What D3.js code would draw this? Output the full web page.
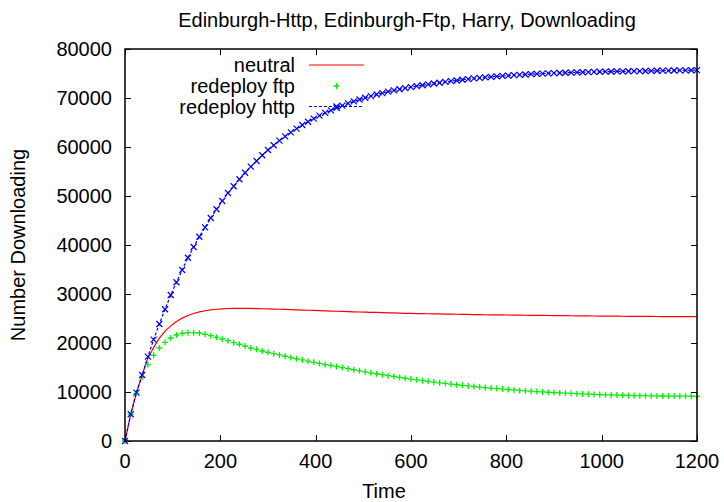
<!DOCTYPE html>
<html>
<head>
<meta charset="utf-8">
<script src="https://cdn.jsdelivr.net/npm/d3@7"></script>
<style>
  html, body { margin: 0; padding: 0; background: #fff; }
  svg { display: block; }
  text { font-family: "Liberation Sans", Arial, Helvetica, sans-serif; fill: #000; }
</style>
</head>
<body>
<svg id="chart" width="724" height="502"></svg>
<script>
// Simulation samples, one every 12 time units
const time = [
  0, 12, 24, 36, 48, 60, 72, 84, 96, 108,
  120, 132, 144, 156, 168, 180, 192, 204, 216, 228,
  240, 252, 264, 276, 288, 300, 312, 324, 336, 348,
  360, 372, 384, 396, 408, 420, 432, 444, 456, 468,
  480, 492, 504, 516, 528, 540, 552, 564, 576, 588,
  600, 612, 624, 636, 648, 660, 672, 684, 696, 708,
  720, 732, 744, 756, 768, 780, 792, 804, 816, 828,
  840, 852, 864, 876, 888, 900, 912, 924, 936, 948,
  960, 972, 984, 996, 1008, 1020, 1032, 1044, 1056, 1068,
  1080, 1092, 1104, 1116, 1128, 1140, 1152, 1164, 1176, 1188,
  1200
];

const neutral = [
  0, 5450, 9870, 13450, 16950, 19050, 21000, 22420, 23500, 24380,
  25080, 25620, 26030, 26340, 26580, 26760, 26890, 26980, 27040, 27070,
  27080, 27070, 27050, 27020, 26990, 26960, 26930, 26890, 26850, 26810,
  26760, 26720, 26680, 26640, 26600, 26560, 26520, 26480, 26440, 26400,
  26370, 26330, 26300, 26260, 26230, 26200, 26160, 26130, 26090, 26060,
  26030, 26010, 25990, 25970, 25950, 25930, 25910, 25890, 25870, 25850,
  25830, 25810, 25790, 25770, 25760, 25740, 25720, 25710, 25690, 25680,
  25660, 25650, 25630, 25620, 25610, 25590, 25580, 25570, 25560, 25540,
  25530, 25520, 25510, 25500, 25490, 25480, 25470, 25460, 25450, 25440,
  25440, 25430, 25420, 25410, 25400, 25400, 25390, 25390, 25380, 25380,
  25370
];

const redeployFtp = [
  0, 5450, 9730, 13000, 15580, 17490, 18980, 20140, 21020, 21630,
  21970, 22110, 22110, 22040, 21770, 21490, 21160, 20820, 20470, 20060,
  19740, 19390, 18980, 18710, 18370, 18100, 17830, 17560, 17300, 17040,
  16790, 16540, 16300, 16060, 15830, 15600, 15420, 15200, 14980, 14760,
  14540, 14330, 14120, 13920, 13720, 13530, 13340, 13160, 12980, 12810,
  12640, 12480, 12320, 12170, 12020, 11880, 11740, 11610, 11480, 11360,
  11240, 11120, 11010, 10900, 10800, 10700, 10600, 10510, 10420, 10330,
  10250, 10170, 10090, 10020, 9950, 9880, 9820, 9760, 9700, 9650,
  9600, 9550, 9510, 9470, 9430, 9400, 9370, 9340, 9310, 9280,
  9260, 9240, 9220, 9200, 9180, 9170, 9160, 9150, 9140, 9130,
  9120
];

const redeployHttp = [
  0, 5450, 9880, 13470, 17220, 20690, 23880, 26880, 29800, 32390,
  34900, 37400, 39590, 41690, 43610, 45510, 47290, 48980, 50610, 51980,
  53410, 54750, 55980, 57140, 58310, 59390, 60350, 61290, 62180, 63000,
  63740, 64490, 65160, 65790, 66390, 66950, 67480, 67980, 68450, 68890,
  69300, 69690, 70050, 70390, 70710, 71010, 71290, 71550, 71790, 72020,
  72230, 72420, 72600, 72780, 72950, 73120, 73280, 73430, 73580, 73720,
  73860, 73990, 74110, 74220, 74320, 74410, 74500, 74580, 74660, 74730,
  74800, 74860, 74920, 74970, 75020, 75070, 75110, 75150, 75190, 75230,
  75260, 75290, 75320, 75350, 75380, 75400, 75420, 75440, 75460, 75480,
  75500, 75520, 75540, 75560, 75580, 75600, 75620, 75640, 75650, 75670,
  75680
];

const xTicks = [0, 200, 400, 600, 800, 1000, 1200];
const yTicks = [0, 10000, 20000, 30000, 40000, 50000, 60000, 70000, 80000];

const titleText = "Edinburgh-Http, Edinburgh-Ftp, Harry, Downloading";
const xLabel = "Time";
const yLabel = "Number Downloading";
const seriesNames = ["neutral", "redeploy ftp", "redeploy http"];

// ---- layout ----
const plot = { left: 125, right: 697, top: 49, bottom: 441 };
const fontSize = 20;
const tickLen = 6;

const svg = d3.select("#chart");

const x = d3.scaleLinear().domain([0, 1200]).range([plot.left, plot.right]);
const y = d3.scaleLinear().domain([0, 80000]).range([plot.bottom, plot.top]);

const rows = time.map((t, i) => ({
  t, neutral: neutral[i], ftp: redeployFtp[i], http: redeployHttp[i]
}));

// ---- tick labels ----
svg.append("g").selectAll("text").data(yTicks).join("text")
  .attr("x", plot.left - 13)
  .attr("y", d => y(d))
  .attr("dy", "0.35em")
  .attr("text-anchor", "end")
  .style("font-size", fontSize + "px")
  .text(d => d);

svg.append("g").selectAll("text").data(xTicks).join("text")
  .attr("x", d => x(d))
  .attr("y", plot.bottom + 27)
  .attr("text-anchor", "middle")
  .style("font-size", fontSize + "px")
  .text(d => d);

// ---- inward, mirrored ticks ----
const tickG = svg.append("g").attr("stroke", "#000").attr("stroke-width", 1);
xTicks.forEach(v => {
  const px = Math.round(x(v)) + 0.5;
  tickG.append("line").attr("x1", px).attr("x2", px)
    .attr("y1", plot.bottom).attr("y2", plot.bottom - tickLen);
  tickG.append("line").attr("x1", px).attr("x2", px)
    .attr("y1", plot.top).attr("y2", plot.top + tickLen);
});
yTicks.forEach(v => {
  const py = Math.round(y(v)) + 0.5;
  tickG.append("line").attr("y1", py).attr("y2", py)
    .attr("x1", plot.left).attr("x2", plot.left + tickLen);
  tickG.append("line").attr("y1", py).attr("y2", py)
    .attr("x1", plot.right).attr("x2", plot.right - tickLen);
});

// ---- series ----
const plusPath = "M-3,0H3M0,-3V3";
const crossPath = "M-3,-3L3,3M-3,3L3,-3";
const red = "#ff0000", green = "#00f000", blue = "#0000ff";

const lineOf = key => d3.line().x(d => x(d.t)).y(d => y(d[key]));

// neutral: solid red line
svg.append("path").datum(rows)
  .attr("fill", "none").attr("stroke", red).attr("stroke-width", 1.2)
  .attr("d", lineOf("neutral"));

// redeploy ftp: green plus points
svg.append("g").selectAll("path").data(rows).join("path")
  .attr("transform", d => `translate(${x(d.t)},${y(d.ftp)})`)
  .attr("d", plusPath)
  .attr("fill", "none").attr("stroke", green).attr("stroke-width", 1.3);

// redeploy http: dotted blue line with cross points
svg.append("path").datum(rows)
  .attr("fill", "none").attr("stroke", blue).attr("stroke-width", 1.2)
  .attr("stroke-dasharray", "3,2")
  .attr("d", lineOf("http"));
svg.append("g").selectAll("path").data(rows).join("path")
  .attr("transform", d => `translate(${x(d.t)},${y(d.http)})`)
  .attr("d", crossPath)
  .attr("fill", "none").attr("stroke", blue).attr("stroke-width", 1.2);

// ---- legend ----
const legend = svg.append("g");
const legendTextRight = 295;
const sampleX0 = 309, sampleX1 = 364;
const legendRowY = [65, 86, 106.5];

seriesNames.forEach((name, i) => {
  legend.append("text")
    .attr("x", legendTextRight)
    .attr("y", legendRowY[i])
    .attr("dy", "0.35em")
    .attr("text-anchor", "end")
    .style("font-size", fontSize + "px")
    .text(name);
});
legend.append("line")
  .attr("x1", sampleX0).attr("x2", sampleX1)
  .attr("y1", legendRowY[0]).attr("y2", legendRowY[0])
  .attr("stroke", red).attr("stroke-width", 1.2);
legend.append("path")
  .attr("transform", `translate(${(sampleX0 + sampleX1) / 2},${legendRowY[1]})`)
  .attr("d", plusPath)
  .attr("fill", "none").attr("stroke", green).attr("stroke-width", 1.3);
legend.append("line")
  .attr("x1", sampleX0).attr("x2", sampleX1)
  .attr("y1", legendRowY[2]).attr("y2", legendRowY[2])
  .attr("stroke", blue).attr("stroke-width", 1.2)
  .attr("stroke-dasharray", "3,2");
legend.append("path")
  .attr("transform", `translate(${(sampleX0 + sampleX1) / 2},${legendRowY[2]})`)
  .attr("d", crossPath)
  .attr("fill", "none").attr("stroke", blue).attr("stroke-width", 1.2);

// ---- border ----
svg.append("rect")
  .attr("x", plot.left).attr("y", plot.top)
  .attr("width", plot.right - plot.left).attr("height", plot.bottom - plot.top)
  .attr("fill", "none").attr("stroke", "#000").attr("stroke-width", 1.5);

// ---- titles ----
svg.append("text")
  .attr("x", 407)
  .attr("y", 27)
  .attr("text-anchor", "middle")
  .style("font-size", fontSize + "px")
  .text(titleText);

svg.append("text")
  .attr("x", 384)
  .attr("y", 498)
  .attr("text-anchor", "middle")
  .style("font-size", fontSize + "px")
  .text(xLabel);

svg.append("text")
  .attr("transform", `translate(25,${(plot.top + plot.bottom) / 2}) rotate(-90)`)
  .attr("text-anchor", "middle")
  .style("font-size", fontSize + "px")
  .text(yLabel);
</script>
</body>
</html>
